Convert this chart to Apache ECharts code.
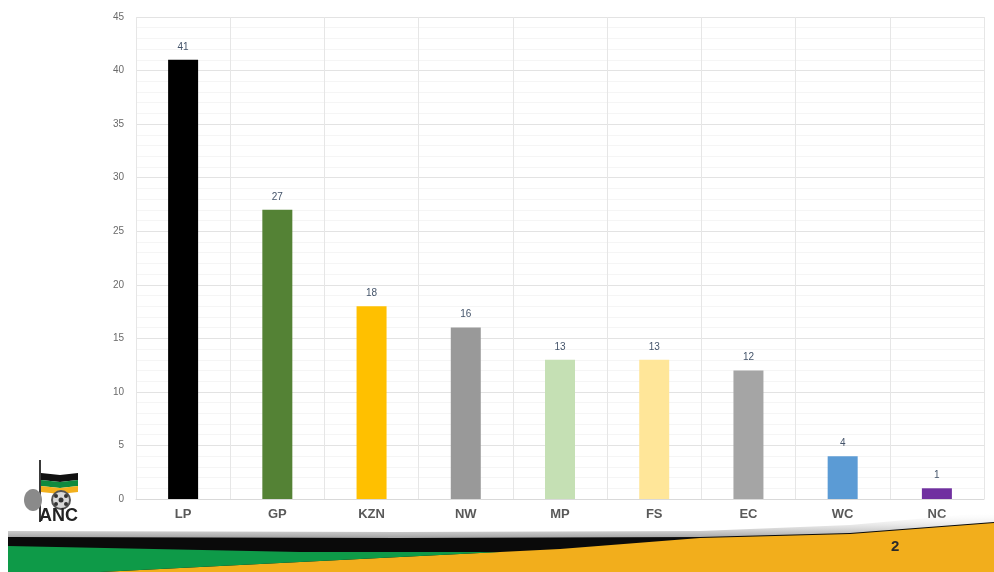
<!DOCTYPE html>
<html>
<head>
<meta charset="utf-8">
<script src="https://cdn.jsdelivr.net/npm/echarts@6/dist/echarts.min.js"></script>
<style>
  html, body { margin: 0; padding: 0; background: #ffffff; }
  #chart { width: 994px; height: 572px; }
</style>
</head>
<body>
<div id="chart"></div>
<script>
// Provinces and their counts
const provinces = ['LP', 'GP', 'KZN', 'NW', 'MP', 'FS', 'EC', 'WC', 'NC'];
const counts = [41, 27, 18, 16, 13, 13, 12, 4, 1];
const barColors = ['#000000', '#548235', '#FFC000', '#999999', '#C5E0B4', '#FFE699', '#A5A5A5', '#5B9BD5', '#7030A0'];
const yTicks = { min: 0, max: 45, interval: 5 };
const pageNumber = '2';

const chart = echarts.init(document.getElementById('chart'), null, { renderer: 'canvas' });

// Decorative footer band and logo
const footer = [
  // soft grey shadow above the band
  {
    type: 'polygon', z: 1, silent: true,
    shape: { points: [[8, 531], [400, 532], [700, 531], [850, 525], [994, 512], [994, 523], [850, 534], [700, 538], [400, 539], [8, 538]] },
    style: {
      fill: { type: 'linear', x: 0, y: 0, x2: 0, y2: 1, colorStops: [
        { offset: 0, color: 'rgba(255,255,255,0)' }, { offset: 1, color: '#9a9a9a' }] }
    }
  },
  // black base of the band
  {
    type: 'polygon', z: 2, silent: true,
    shape: { points: [[8, 537], [400, 538], [700, 537], [850, 533], [994, 522], [994, 572], [8, 572]] },
    style: { fill: '#0a0a0a' }
  },
  // gold sweep
  {
    type: 'polygon', z: 3, silent: true,
    shape: { points: [[100, 572], [560, 549], [700, 538], [850, 534], [994, 523], [994, 572]] },
    style: { fill: '#F2AE1C' }
  },
  // green sweep
  {
    type: 'polygon', z: 3, silent: true,
    shape: { points: [[8, 546], [300, 552], [500, 552], [100, 572], [8, 572]] },
    style: { fill: '#0E9A48' }
  },
  {
    type: 'text', z: 5, left: 891, top: 539, silent: true,
    style: { text: pageNumber, font: 'bold 15px "Liberation Sans", Arial, sans-serif', fill: '#2a2a2a' }
  },
  // logo: spear
  { type: 'line', z: 5, silent: true, shape: { x1: 40, y1: 460, x2: 40, y2: 522 }, style: { stroke: '#3a3a3a', lineWidth: 2 } },
  // logo: flag stripes
  { type: 'polygon', z: 5, silent: true, shape: { points: [[41, 473], [60, 475], [78, 473], [78, 480], [60, 482], [41, 480]] }, style: { fill: '#111111' } },
  { type: 'polygon', z: 5, silent: true, shape: { points: [[41, 480], [60, 482], [78, 480], [78, 486], [60, 488], [41, 486]] }, style: { fill: '#0E8A3E' } },
  { type: 'polygon', z: 5, silent: true, shape: { points: [[41, 486], [60, 488], [78, 486], [78, 492], [60, 494], [41, 492]] }, style: { fill: '#F2B01C' } },
  // logo: fist and wheel
  { type: 'ellipse', z: 5, silent: true, shape: { cx: 33, cy: 500, rx: 9, ry: 11 }, style: { fill: '#8a8a8a' } },
  { type: 'circle', z: 5, silent: true, shape: { cx: 61, cy: 500, r: 9 }, style: { fill: '#d8d8d8', stroke: '#555555', lineWidth: 2 } },
  { type: 'circle', z: 6, silent: true, shape: { cx: 61, cy: 500, r: 2.5 }, style: { fill: '#333333' } },
  { type: 'circle', z: 6, silent: true, shape: { cx: 56, cy: 496, r: 2 }, style: { fill: '#333333' } },
  { type: 'circle', z: 6, silent: true, shape: { cx: 66, cy: 496, r: 2 }, style: { fill: '#333333' } },
  { type: 'circle', z: 6, silent: true, shape: { cx: 56, cy: 504, r: 2 }, style: { fill: '#333333' } },
  { type: 'circle', z: 6, silent: true, shape: { cx: 66, cy: 504, r: 2 }, style: { fill: '#333333' } },
  {
    type: 'text', z: 6, left: 39, top: 507, silent: true,
    style: { text: 'ANC', font: 'bold 18px "Liberation Sans Narrow", "Liberation Sans", Arial, sans-serif', fill: '#222222' }
  }
];

chart.setOption({
  animation: false,
  backgroundColor: '#ffffff',
  grid: { left: 136, right: 10, top: 17, bottom: 73, containLabel: false },
  xAxis: {
    type: 'category',
    data: provinces,
    boundaryGap: true,
    axisLine: { show: true, lineStyle: { color: '#d9d9d9', width: 1 } },
    axisTick: { show: false },
    axisLabel: {
      margin: 9,
      color: '#595959',
      fontSize: 13,
      fontWeight: 'bold',
      fontFamily: '"Liberation Sans", Arial, sans-serif'
    },
    splitLine: { show: true, interval: 0, lineStyle: { color: '#e6e6e6', width: 1 } }
  },
  yAxis: {
    type: 'value',
    min: yTicks.min,
    max: yTicks.max,
    interval: yTicks.interval,
    axisLine: { show: false },
    axisTick: { show: false },
    axisLabel: {
      margin: 12,
      color: '#6a6a6a',
      fontSize: 10,
      fontFamily: '"Liberation Sans", Arial, sans-serif'
    },
    splitLine: { show: true, lineStyle: { color: '#e3e3e3', width: 1 } },
    minorTick: { show: false, splitNumber: 5 },
    minorSplitLine: { show: true, lineStyle: { color: '#f5f5f5', width: 1 } }
  },
  series: [{
    type: 'bar',
    data: counts.map((v, i) => ({ value: v, itemStyle: { color: barColors[i] } })),
    barWidth: 30,
    label: {
      show: true,
      position: 'top',
      distance: 8,
      color: '#44546A',
      fontSize: 10,
      fontFamily: '"Liberation Sans", Arial, sans-serif'
    },
    z: 4
  }],
  graphic: footer
});
</script>
</body>
</html>
